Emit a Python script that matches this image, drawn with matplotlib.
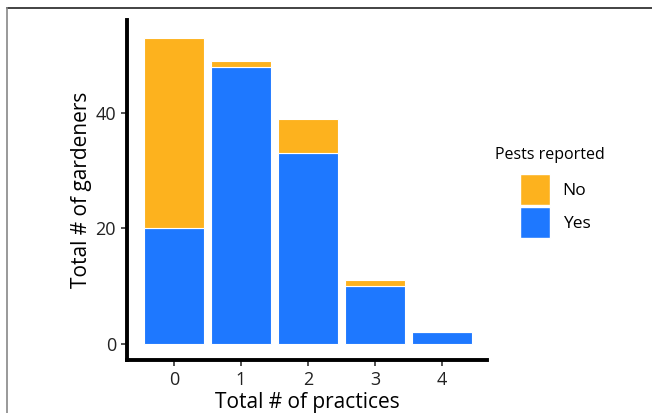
import matplotlib.pyplot as plt
from matplotlib.lines import Line2D
from matplotlib.patches import Patch
import numpy as np

practices = ["0", "1", "2", "3", "4"]
yes_counts = [20, 48, 33, 10, 2]
no_counts = [33, 1, 6, 1, 0]

yes_color = "#1E78FF"
no_color = "#FDB21E"

plt.rcParams["font.family"] = ["Open Sans", "DejaVu Sans"]

W, H = 652, 413
fig = plt.figure(figsize=(W / 100, H / 100), dpi=100)
ax = fig.add_axes([127 / W, 1 - 360 / H, 360 / W, 340 / H])

x = np.arange(len(practices))
ax.bar(x, yes_counts, width=0.9, color=yes_color, edgecolor="white", linewidth=0.8)
ax.bar(x, no_counts, width=0.9, bottom=yes_counts, color=no_color,
       edgecolor="white", linewidth=0.8)

ax.set_xlim(-0.7, 4.67)
ax.set_ylim(-2.77, 56.1)
ax.set_xticks(x)
ax.set_xticklabels(practices)
ax.set_yticks([0, 20, 40])

for side in ("top", "right"):
    ax.spines[side].set_visible(False)
for side in ("left", "bottom"):
    ax.spines[side].set_linewidth(2.8)
    ax.spines[side].set_color("black")
ax.tick_params(axis="both", length=4, width=1.2, color="#333333",
               labelsize=13, labelcolor="#222222", pad=4)

ax.set_xlabel("Total # of practices", fontsize=15, color="black", labelpad=2)
ax.set_ylabel("Total # of gardeners", fontsize=15, color="black", labelpad=2)

# legend: title set as its own text so the keys sit indented below it
fig.text(495 / W, 1 - 155 / H, "Pests reported", fontsize=11.5,
         ha="left", va="center", color="black")
handles = [Patch(facecolor=no_color, edgecolor="white", label="No"),
           Patch(facecolor=yes_color, edgecolor="white", label="Yes")]
fig.legend(handles=handles, loc="upper left",
           bbox_to_anchor=(520 / W, 1 - 174 / H), frameon=False,
           fontsize=12.5, borderpad=0, borderaxespad=0, handlelength=1.75,
           handleheight=2.4, handletextpad=0.7, labelspacing=0.1)

# thin frame lines around the image
fig.add_artist(Line2D([7 / W, 1], [1 - 8 / H] * 2, transform=fig.transFigure,
                      color="#222222", linewidth=1.2))
fig.add_artist(Line2D([7 / W] * 2, [0, 1 - 8 / H], transform=fig.transFigure,
                      color="#888888", linewidth=1.2))

fig.savefig("out.png", dpi=100, facecolor="white")
